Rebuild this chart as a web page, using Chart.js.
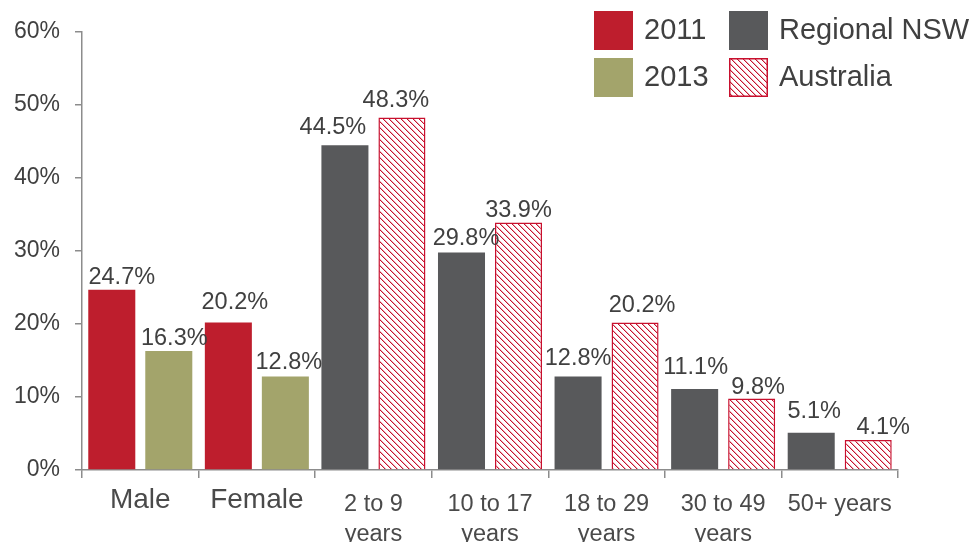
<!DOCTYPE html>
<html><head><meta charset="utf-8">
<script src="https://cdn.jsdelivr.net/npm/chart.js@4/dist/chart.umd.min.js"></script>
<style>html,body{margin:0;padding:0;background:#fff}#wrap{width:973px;height:542px;position:relative}</style>
</head><body><div id="wrap"><canvas id="c" width="973" height="542"></canvas></div>
<script>
// ---- data ----
const categories = [['Male'], ['Female'], ['2 to 9', 'years'], ['10 to 17', 'years'], ['18 to 29', 'years'], ['30 to 49', 'years'], ['50+ years']];
const seriesNames = ['2011', '2013', 'Regional NSW', 'Australia'];
const values2011 = [24.7, 20.2, null, null, null, null, null];
const values2013 = [16.3, 12.8, null, null, null, null, null];
const valuesRegionalNSW = [null, null, 44.5, 29.8, 12.8, 11.1, 5.1];
const valuesAustralia = [null, null, 48.3, 33.9, 20.2, 9.8, 4.1];
const yTickValues = [0, 10, 20, 30, 40, 50, 60];

// ---- style ----
const RED = '#BE1E2D', OLIVE = '#A3A46B', GREY = '#58595B', PRED = '#C8102E';
const FONT = "'Liberation Sans', Arial, sans-serif";
const TEXT = '#404040';
// label nudges (dx, gap above bar) per dataset, per category
const labelDx = [[10, 6.5], [5.5, 3.5], [null, null, -12, 4.5, 0, 1, 3], [null, null, -6, 0, 7, 6.5, 15]];
const labelGap = [[6, 14], [6, 7.5], [null, null, 11, 7, 12, 15, 15], [null, null, 10, 6, 11, 4, 6]];

function makePattern() {
  const p = document.createElement('canvas');
  p.width = 6; p.height = 6;
  const g = p.getContext('2d');
  g.fillStyle = '#fff'; g.fillRect(0, 0, 6, 6);
  for (let i = 0; i < 6; i++) {
    g.fillStyle = PRED; g.fillRect(i, i, 1, 1);
    g.fillStyle = '#EBB0B6'; g.fillRect((i + 1) % 6, i, 1, 1);
  }
  return document.getElementById('c').getContext('2d').createPattern(p, 'repeat');
}
const pattern = makePattern();

const legendItems = [
  { label: seriesNames[0], fill: RED, x: 594, y: 11 },
  { label: seriesNames[1], fill: OLIVE, x: 594, y: 58 },
  { label: seriesNames[2], fill: GREY, x: 729, y: 11 },
  { label: seriesNames[3], fill: pattern, border: PRED, x: 729, y: 58 }
];

const legendPlugin = {
  id: 'customLegend',
  afterDraw(chart) {
    const ctx = chart.ctx;
    ctx.save();
    ctx.font = '29px ' + FONT;
    ctx.textBaseline = 'middle';
    ctx.textAlign = 'left';
    legendItems.forEach(it => {
      ctx.fillStyle = it.fill;
      ctx.fillRect(it.x, it.y, 39, 39);
      if (it.border) { ctx.strokeStyle = it.border; ctx.lineWidth = 1.5; ctx.strokeRect(it.x + 0.75, it.y + 0.75, 37.5, 37.5); }
      ctx.fillStyle = TEXT;
      ctx.fillText(it.label, it.x + 50, it.y + 20);
    });
    ctx.restore();
  }
};

const valueLabelPlugin = {
  id: 'valueLabels',
  afterDatasetsDraw(chart) {
    const ctx = chart.ctx;
    ctx.save();
    ctx.font = '23.5px ' + FONT;
    ctx.fillStyle = TEXT;
    ctx.textAlign = 'center';
    ctx.textBaseline = 'alphabetic';
    chart.data.datasets.forEach((ds, di) => {
      const meta = chart.getDatasetMeta(di);
      meta.data.forEach((el, i) => {
        const v = ds.data[i];
        if (v === null || v === undefined) return;
        const dx = (labelDx[di] && labelDx[di][i]) || 0;
        const gap = (labelGap[di] && labelGap[di][i] != null) ? labelGap[di][i] : 6;
        ctx.fillText(v.toFixed(1) + '%', el.x + dx, el.y - gap);
      });
    });
    ctx.restore();
  }
};

new Chart(document.getElementById('c'), {
  type: 'bar',
  data: {
    labels: categories,
    datasets: [
      { label: seriesNames[0], data: values2011, backgroundColor: RED, stack: 'a' },
      { label: seriesNames[1], data: values2013, backgroundColor: OLIVE, stack: 'b' },
      { label: seriesNames[2], data: valuesRegionalNSW, backgroundColor: GREY, stack: 'a' },
      { label: seriesNames[3], data: valuesAustralia, backgroundColor: pattern, borderColor: PRED, borderWidth: 1.5, stack: 'b' }
    ]
  },
  options: {
    responsive: false,
    animation: false,
    devicePixelRatio: 1,
    categoryPercentage: 0.978,
    barPercentage: 0.825,
    layout: { padding: { top: 32, right: 75, left: 0, bottom: 0 } },
    plugins: { legend: { display: false }, tooltip: { enabled: false } },
    scales: {
      x: {
        stacked: true,
        grid: { drawOnChartArea: false, color: '#8C8C8C', tickLength: 8, offset: true, lineWidth: 1.5 },
        border: { color: '#8C8C8C', width: 1.5 },
        ticks: {
          color: '#4A4A4A', padding: 12, maxRotation: 0, autoSkip: false,
          font: (c) => c.index < 2 ? { family: FONT, size: 28, lineHeight: '20px' } : { family: FONT, size: 23.5, lineHeight: '30px' }
        },
        afterFit: (s) => { s.height = 72; }
      },
      y: {
        stacked: true,
        min: 0, max: 60,
        afterBuildTicks: (s) => { s.ticks = yTickValues.map(v => ({ value: v })); },
        grid: { drawOnChartArea: false, color: '#8C8C8C', tickLength: 7, lineWidth: 1.5 },
        border: { color: '#8C8C8C', width: 1.5 },
        ticks: { color: TEXT, padding: 15, font: { family: FONT, size: 23 }, callback: (v) => v + '%' },
        afterFit: (s) => { s.width = 82; }
      }
    }
  },
  plugins: [valueLabelPlugin, legendPlugin]
});
</script>
</body></html>
